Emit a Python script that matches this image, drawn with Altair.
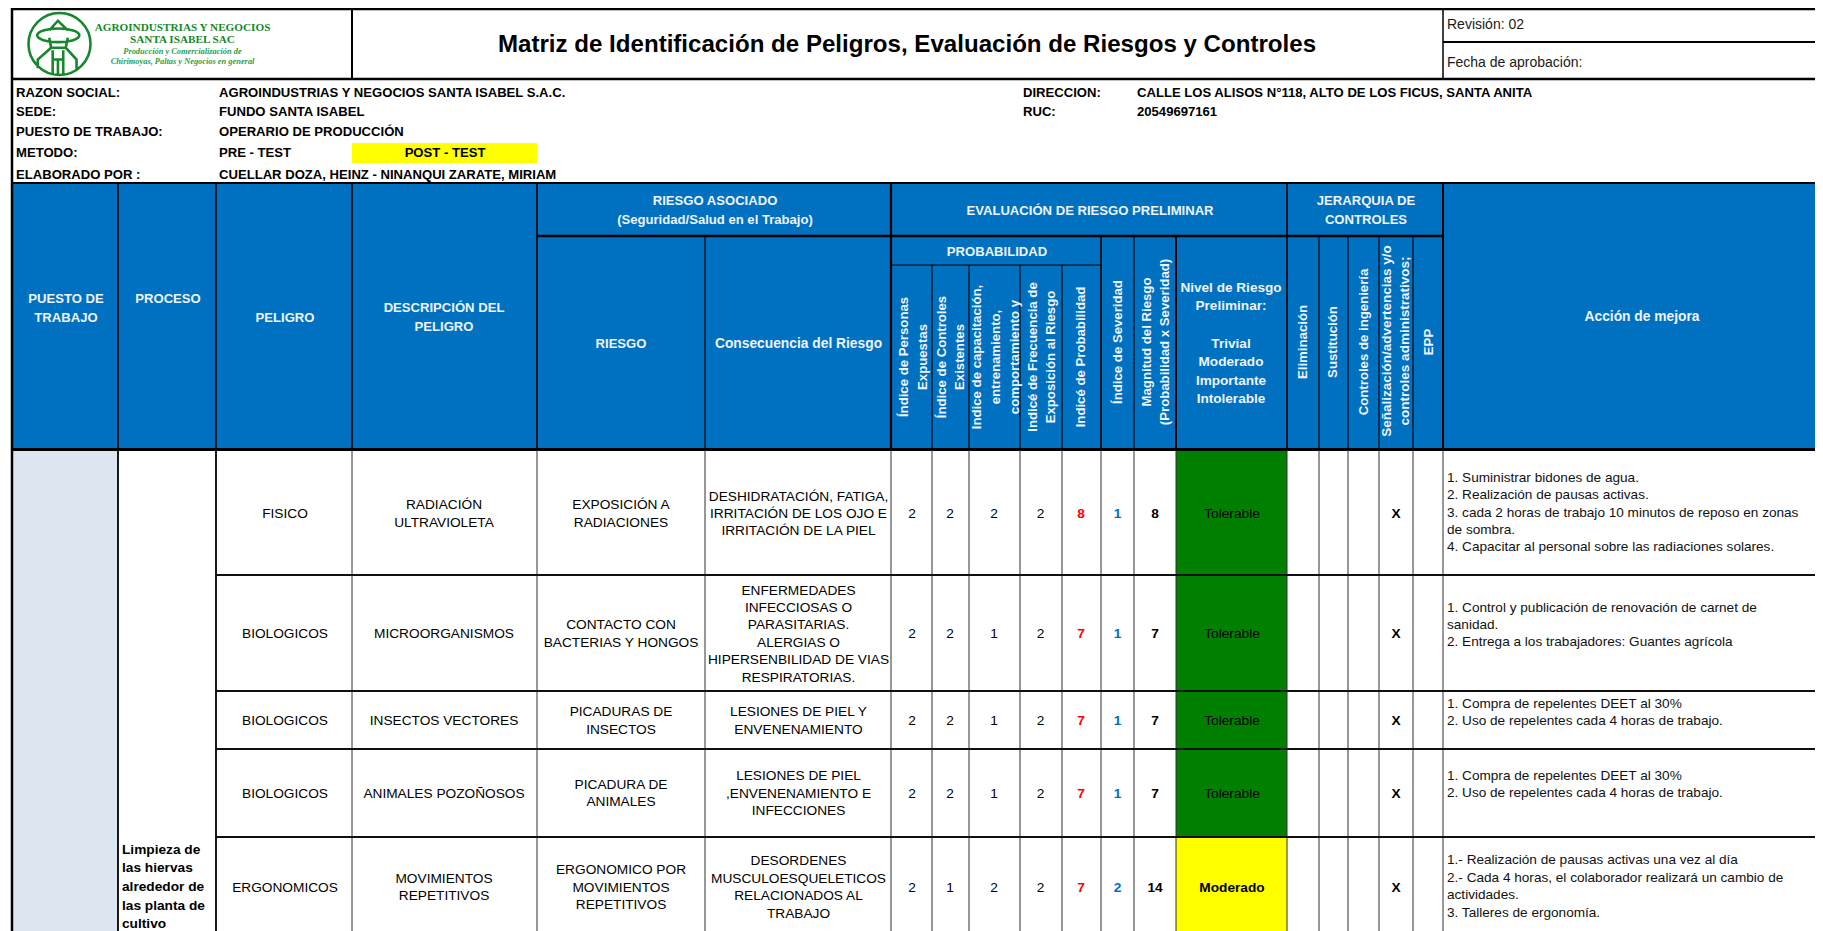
import altair as alt
import pandas as pd

# ---------- sheet geometry (spreadsheet grid, in sheet units) ----------
X_MIN, X_MAX, Y_MIN, Y_MAX = 8, 1815, 8, 931
COL = [12, 118, 216, 352, 537, 705, 891, 932, 969, 1020, 1062, 1101, 1134, 1176, 1287, 1319, 1348, 1379, 1413, 1443, 1815]
ROW = [450, 575, 691, 749, 837, 931]
HEAD_TOP, HEAD_MID, HEAD_PROB, HEAD_BOT = 184, 236, 265, 449

# ---------- texts ----------
TITLE = "Matriz de Identificación de Peligros, Evaluación de Riesgos y Controles"
LOGO_1 = ["AGROINDUSTRIAS Y NEGOCIOS", "SANTA ISABEL SAC"]
LOGO_2 = ["Producción y Comercialización de", "Chirimoyas, Paltas y Negocios en general"]
INFO_LABELS = ["RAZON SOCIAL:", "SEDE:", "PUESTO DE TRABAJO:", "METODO:", "ELABORADO POR :"]
INFO_VALUES = ["AGROINDUSTRIAS Y NEGOCIOS SANTA ISABEL S.A.C.", "FUNDO SANTA ISABEL", "OPERARIO DE PRODUCCIÓN",
               "PRE - TEST", "CUELLAR DOZA, HEINZ -  NINANQUI ZARATE, MIRIAM"]
INFO_Y = [93, 112, 132, 153, 175]

PELIGRO = ["FISICO", "BIOLOGICOS", "BIOLOGICOS", "BIOLOGICOS", "ERGONOMICOS"]
DESCRIPCION = ["RADIACIÓN\nULTRAVIOLETA", "MICROORGANISMOS", "INSECTOS VECTORES", "ANIMALES POZOÑOSOS", "MOVIMIENTOS\nREPETITIVOS"]
RIESGO = ["EXPOSICIÓN A\nRADIACIONES", "CONTACTO CON\nBACTERIAS Y HONGOS", "PICADURAS DE\nINSECTOS", "PICADURA DE\nANIMALES",
          "ERGONOMICO POR\nMOVIMIENTOS\nREPETITIVOS"]
CONSECUENCIA = ["DESHIDRATACIÓN, FATIGA,\nIRRITACIÓN DE LOS OJO E\nIRRITACIÓN DE LA PIEL",
                "ENFERMEDADES\nINFECCIOSAS O\nPARASITARIAS.\nALERGIAS O\nHIPERSENBILIDAD DE VIAS\nRESPIRATORIAS.",
                "LESIONES DE PIEL Y\nENVENENAMIENTO",
                "LESIONES DE PIEL\n,ENVENENAMIENTO E\nINFECCIONES",
                "DESORDENES\nMUSCULOESQUELETICOS\nRELACIONADOS AL\nTRABAJO"]
IDX_PERSONAS = [2, 2, 2, 2, 2]
IDX_CONTROLES = [2, 2, 2, 2, 1]
IDX_CAPACITA = [2, 1, 1, 1, 2]
IDX_FRECUENCIA = [2, 2, 2, 2, 2]
IDX_PROB = [8, 7, 7, 7, 7]
IDX_SEV = [1, 1, 1, 1, 2]
MAGNITUD = [8, 7, 7, 7, 14]
NIVEL = ["Tolerable", "Tolerable", "Tolerable", "Tolerable", "Moderado"]
ACCION = ["1. Suministrar  bidones de agua.\n2. Realización de pausas activas.\n3. cada 2 horas de trabajo 10 minutos de reposo en zonas\nde sombra.\n4. Capacitar al personal sobre las radiaciones solares.",
          "1. Control y publicación de renovación de carnet de\nsanidad.\n2. Entrega a los trabajadores: Guantes agrícola",
          "1. Compra de repelentes DEET al 30%\n2. Uso de repelentes cada 4 horas de trabajo.",
          "1. Compra de repelentes DEET al 30%\n2. Uso de repelentes cada 4 horas de trabajo.",
          "1.- Realización de pausas activas una vez al día\n2.- Cada 4 horas, el colaborador realizará un cambio de\nactividades.\n3. Talleres de ergonomía."]
ROW_Y = [514, 634, 721, 793.5, 887.5]
ACCION_Y = [512.5, 625, 712.5, 784.5, 886.5]

WHITE = "#eef4fa"
BLUE = "#0070c0"
GREEN = "#007f00"
YELLOW = "#ffff00"
SIDE = "#dce6f1"
LOGO_GREEN = "#16872c"

# ---------- rectangles ----------
rects = [
    (COL[0], COL[-1], HEAD_TOP, HEAD_BOT, BLUE),
    (COL[0], COL[1], ROW[0], ROW[-1], SIDE),
    (352, 537, 143, 163, YELLOW),
]
for i, n in enumerate(NIVEL):
    rects.append((COL[13], COL[14], ROW[i], ROW[i + 1], GREEN if n == "Tolerable" else YELLOW))
rect_df = pd.DataFrame(rects, columns=["x", "x2", "y", "y2", "fill"])

# ---------- rules ----------
rules = []
def V(x, y1, y2, w, c="#000000"):
    rules.append((x, x, y1, y2, w, c))
def H(y, x1, x2, w, c="#000000"):
    rules.append((x1, x2, y, y, w, c))

H(9, COL[0], X_MAX, 2.5)
H(79, COL[0], X_MAX, 2.5)
V(COL[0], 8, Y_MAX, 2.5)
V(352, 8, 79, 2)
V(1443, 8, 79, 1.5)
H(42, 1443, X_MAX, 2)
H(HEAD_TOP - 1, COL[0], X_MAX, 2)
H(HEAD_BOT + 0.5, COL[0], X_MAX, 3)
H(HEAD_MID, 537, 1443, 2.5)
H(HEAD_PROB, 891, 1101, 1.2)
for x, y1, w in [(118, HEAD_TOP, 1.6), (216, HEAD_TOP, 1.6), (352, HEAD_TOP, 1.6), (537, HEAD_TOP, 1.6),
                 (705, HEAD_MID, 1.2), (891, HEAD_TOP, 2.2), (932, HEAD_PROB, 1.1), (969, HEAD_PROB, 1.1),
                 (1020, HEAD_PROB, 1.1), (1062, HEAD_PROB, 1.1), (1101, HEAD_MID, 1.6), (1134, HEAD_MID, 1.1),
                 (1176, HEAD_MID, 2), (1287, HEAD_TOP, 1.6), (1319, HEAD_MID, 1.1), (1348, HEAD_MID, 1.1),
                 (1379, HEAD_MID, 1.1), (1413, HEAD_MID, 1.1), (1443, HEAD_TOP, 2)]:
    V(x, y1, HEAD_BOT, w)
for x in COL[1:-1]:
    wide = x in (118, 216)
    V(x, ROW[0], Y_MAX, 1.8 if wide else 1, "#000000" if wide else "#303030")
for y, w in zip(ROW[1:-1], [2.2, 2.2, 1.8, 2.2]):
    H(y, 216, X_MAX, w, "#101010")
rule_df = pd.DataFrame(rules, columns=["x", "x2", "y", "y2", "w", "c"])

# ---------- texts table: one row per printed line ----------
texts = []
def T(style, x, y, s, size, color="#000000", angle=0, lh=17.4):
    lines = s.split("\n")
    for k, line in enumerate(lines):
        off = (k - (len(lines) - 1) / 2) * lh
        if line:
            texts.append(dict(style=style, x=x + off if angle else x, y=y if angle else y + off,
                              t=line, size=size, color=color, angle=angle))

T("bold-c", 907, 45, TITLE, 24.1)
T("reg-l", 1447, 25, "Revisión: 02", 14, "#1a1a1a")
T("reg-l", 1447, 62.5, "Fecha de aprobación:", 14, "#1a1a1a")
for s, y in zip(LOGO_1, [28, 40]):
    T("serif-c", 182.5, y, s, 11.2, LOGO_GREEN)
for s, y in zip(LOGO_2, [51, 61]):
    T("serifi-c", 182.5, y, s, 8.4, "#2aa146")
for lab, val, y in zip(INFO_LABELS, INFO_VALUES, INFO_Y):
    T("bold-l", 16, y, lab, 13.1)
    T("bold-l", 219, y, val, 13.1)
T("bold-c", 445, 153, "POST - TEST", 13.1)
T("bold-l", 1023, 93, "DIRECCION:", 13.1)
T("bold-l", 1023, 112, "RUC:", 13.1)
T("bold-l", 1137, 93, "CALLE LOS ALISOS N°118, ALTO DE LOS FICUS, SANTA ANITA", 13.1)
T("bold-l", 1137, 112, "20549697161", 13.1)

for x, y, s, sz in [(66, 308.5, "PUESTO DE\nTRABAJO", 13.1), (168, 298.5, "PROCESO", 13.1), (285, 317.5, "PELIGRO", 13.1),
                    (444, 317.5, "DESCRIPCIÓN DEL\nPELIGRO", 13.1),
                    (715, 210.5, "RIESGO ASOCIADO\n(Seguridad/Salud en el Trabajo)", 13.1),
                    (621, 343.5, "RIESGO", 13.1), (798.5, 343.5, "Consecuencia del Riesgo", 13.8),
                    (1090, 210.5, "EVALUACIÓN DE RIESGO PRELIMINAR", 13.1), (1366, 210.5, "JERARQUIA DE\nCONTROLES", 13.1),
                    (997, 251.5, "PROBABILIDAD", 13.1), (1642, 316.5, "Acción de mejora", 13.8)]:
    T("bold-c", x, y, s, sz, WHITE, lh=18.6)
T("bold-c", 1231, 343.5, "Nivel de Riesgo\nPreliminar:\n\nTrivial\nModerado\nImportante\nIntolerable", 13.6, WHITE, lh=18.6)
for x, y, s, sz in [(913.5, 357, "Índice de Personas\nExpuestas", 13.2), (951, 357, "Índice de Controles\nExistentes", 13.2),
                    (996, 357, "Indice de capacitación,\nentrenamiento,\ncomportamiento y", 13.2),
                    (1042, 357, "Indicé de Frecuencia de\nExposición al Riesgo", 13.2), (1081, 357, "Indicé de Probabilidad", 13.2),
                    (1118, 342, "Índice de  Severidad", 13.2), (1156, 342, "Magnitud del Riesgo\n(Probabilidad  x  Severidad)", 13.2),
                    (1303, 342, "Eliminación", 13.2), (1333, 342, "Sustitución", 13.2), (1364, 342, "Controles de ingeniería", 13.2),
                    (1396, 341, "Señalización/advertencias y/o\ncontroles administrativos;", 13.5), (1429, 342, "EPP", 13.2)]:
    T("bold-c", x, y, s, sz, WHITE, 270, lh=18.6)

for i, y in enumerate(ROW_Y):
    T("reg-c", 285, y, PELIGRO[i], 13.7)
    T("reg-c", 444, y, DESCRIPCION[i], 13.7)
    T("reg-c", 621, y, RIESGO[i], 13.7)
    T("reg-c", 798.5, y, CONSECUENCIA[i], 13.7)
    for x, v in zip([912, 950, 994, 1040.5], [IDX_PERSONAS[i], IDX_CONTROLES[i], IDX_CAPACITA[i], IDX_FRECUENCIA[i]]):
        T("reg-c", x, y, str(v), 13.7)
    T("bold-c", 1081, y, str(IDX_PROB[i]), 13.7, "#ff0000")
    T("bold-c", 1117.5, y, str(IDX_SEV[i]), 13.7, "#0070c0")
    T("bold-c", 1155, y, str(MAGNITUD[i]), 13.7)
    T("bold-c" if NIVEL[i] == "Moderado" else "reg-c", 1232, y, NIVEL[i], 13.7)
    T("bold-c", 1396, y, "X", 13.7)
    T("reg-l", 1447, ACCION_Y[i], ACCION[i], 13.6, "#111111")
T("bold-l", 122, 887, "Limpieza de\nlas hiervas\nalrededor de\nlas planta de\ncultivo", 13.7, lh=18.6)
text_df = pd.DataFrame(texts)

# ---------- scales ----------
sx = alt.Scale(domain=[X_MIN, X_MAX], nice=False, zero=False)
sy = alt.Scale(domain=[Y_MAX, Y_MIN], nice=False, zero=False)
X = alt.X("x:Q", scale=sx, axis=None)
Y = alt.Y("y:Q", scale=sy, axis=None)

rect_layer = alt.Chart(rect_df).mark_rect(opacity=1).encode(
    x=X, x2="x2:Q", y=Y, y2="y2:Q", color=alt.Color("fill:N", scale=None, legend=None))
rule_layer = alt.Chart(rule_df).mark_rule().encode(
    x=X, x2="x2:Q", y=Y, y2="y2:Q",
    color=alt.Color("c:N", scale=None, legend=None),
    strokeWidth=alt.StrokeWidth("w:Q", scale=None, legend=None))

STYLES = {
    "bold-c": dict(font="Liberation Sans", fontWeight="bold", align="center"),
    "bold-l": dict(font="Liberation Sans", fontWeight="bold", align="left"),
    "reg-c": dict(font="Liberation Sans", align="center"),
    "reg-l": dict(font="Liberation Sans", align="left"),
    "serif-c": dict(font="Liberation Serif", fontWeight="bold", align="center"),
    "serifi-c": dict(font="Liberation Serif", fontWeight="bold", fontStyle="italic", align="center"),
}
text_layers = []
for name, st in STYLES.items():
    text_layers.append(
        alt.Chart(text_df[text_df["style"] == name]).mark_text(baseline="middle", **st).encode(
            x=X, y=Y, text="t:N",
            size=alt.Size("size:Q", scale=None, legend=None),
            color=alt.Color("color:N", scale=None, legend=None),
            angle=alt.Angle("angle:Q", scale=None, legend=None)))

# ---------- logo, a single symbol in sheet units ----------
LOGO_X, LOGO_Y, LOGO_D = [59.5], [44], 3844
LOGO_PATH = ("M -1 0 A 1 1 0 1 1 1 0 A 1 1 0 1 1 -1 0 Z "
             "M -0.72 -0.28 A 0.68 0.22 0 1 1 0.64 -0.28 A 0.68 0.22 0 1 1 -0.72 -0.28 Z "
             "M -0.33 -0.44 L -0.05 -0.75 L 0.27 -0.44 "
             "M -0.33 -0.2 L -0.27 0.12 L 0.2 0.12 L 0.27 -0.2 "
             "M -0.27 0.12 L -0.7 0.5 L -0.7 0.78 "
             "M 0.2 0.12 L 0.55 0.5 L 0.55 0.8 "
             "M -0.22 0.2 L -0.22 0.95 M 0.12 0.2 L 0.12 0.95 M -0.22 0.5 L 0.12 0.5 M -0.05 0.5 L -0.05 0.98")
logo = alt.Chart(pd.DataFrame({"x": LOGO_X, "y": LOGO_Y})).mark_point(
    shape=LOGO_PATH, size=LOGO_D, filled=False, stroke=LOGO_GREEN, strokeWidth=2.6, opacity=1
).encode(x=X, y=Y)

chart = alt.layer(rect_layer, rule_layer, logo, *text_layers).properties(
    width=X_MAX - X_MIN, height=Y_MAX - Y_MIN, padding=0, background="#ffffff",
    autosize=alt.AutoSizeParams(type="none"),
).configure_view(stroke=None)

chart.save("out.html", embed_options={"renderer": "svg", "actions": False})
